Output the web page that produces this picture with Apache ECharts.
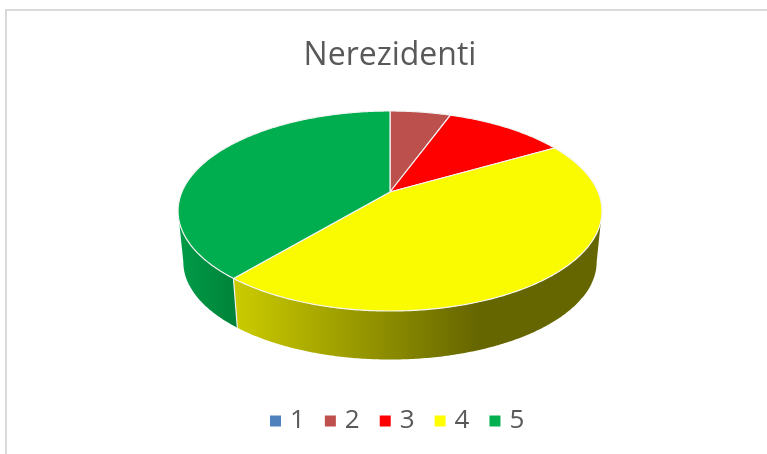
<!DOCTYPE html>
<html>
<head>
<meta charset="utf-8">
<style>html,body{margin:0;padding:0;background:#fff}#c{width:767px;height:454px}</style>
<script src="https://cdn.jsdelivr.net/npm/echarts@6/dist/echarts.min.js"></script>
</head>
<body>
<div id="c"></div>
<script>
const titleText = 'Nerezidenti';
const categories = ['1', '2', '3', '4', '5'];
const values = [0, 1, 2, 8, 7];

const colors = ['#4F81BD', '#C0504D', '#FF0000', '#FFFF00', '#00B050'];
const topColors = ['#4F81BD', '#BC504D', '#FF0000', '#FAFA00', '#00AE4F'];

// Perspective view of the disc
const view = { apexX: 390, apexY: 192, radius: 208.1, tilt: 96.4, persp: 0.19,
               floorDY: 51.5, floorScale: 0.975 };

const total = values.reduce((a, b) => a + b, 0);
function cumulative(i) { return values.slice(0, i).reduce((a, b) => a + b, 0); }
function toAngle(v) { return echarts.number.linearMap(v, [0, total], [0, Math.PI * 2]); }

// Angles where the rim turns away from the viewer: walls exist only between them
const frontStart = Math.acos(-view.persp);
const frontEnd = Math.PI * 2 - frontStart;

function project(theta, floor) {
  const u = Math.sin(theta), v = -Math.cos(theta), w = 1 - view.persp * v;
  const s = floor ? view.floorScale : 1;
  return [
    view.apexX + s * view.radius * u / w,
    view.apexY + (floor ? view.floorDY : 0) + s * view.tilt * v / w
  ];
}
function arc(a0, a1, floor) {
  const n = Math.max(2, Math.ceil(Math.abs(a1 - a0) / 0.01));
  const pts = [];
  for (let k = 0; k <= n; k++) pts.push(project(a0 + (a1 - a0) * k / n, floor));
  return pts;
}
const wallFill = {
  3: new echarts.graphic.LinearGradient(233, 0, 600, 0, [
    { offset: 0, color: '#CCCC00' }, { offset: 0.665, color: '#666600' }, { offset: 1, color: '#666600' }
  ], true),
  4: new echarts.graphic.LinearGradient(178, 0, 237, 0, [
    { offset: 0, color: '#009C48' }, { offset: 1, color: '#008239' }
  ], true)
};

const chart = echarts.init(document.getElementById('c'), null, { renderer: 'canvas' });
chart.setOption({
  animation: false,
  backgroundColor: '#ffffff',
  title: {
    text: titleText, left: 385, top: 35, textAlign: 'center',
    textStyle: { fontFamily: 'Open Sans', fontSize: 32, fontWeight: 'normal', color: '#595959' }
  },
  legend: {
    data: categories, left: 265, top: 403, orient: 'horizontal',
    icon: 'rect', itemWidth: 11, itemHeight: 11, itemGap: 20,
    textStyle: { fontFamily: 'Open Sans', fontSize: 26, color: '#595959', padding: [2, 0, 0, 4] }
  },
  graphic: [
    { type: 'line', shape: { x1: 6, y1: 10, x2: 767, y2: 10 }, style: { stroke: '#D9D9D9', lineWidth: 2 } },
    { type: 'line', shape: { x1: 6, y1: 9, x2: 6, y2: 454 }, style: { stroke: '#D9D9D9', lineWidth: 2 } }
  ],
  series: categories.map((name, i) => ({
    type: 'custom',
    name: name,
    coordinateSystem: 'none',
    silent: true,
    itemStyle: { color: colors[i] },
    data: [[values[i]]],
    renderItem: function (params, api) {
      const v = api.value(0);
      if (!v) return { type: 'group', children: [] };
      const a0 = toAngle(cumulative(i)), a1 = toAngle(cumulative(i) + v);
      const rim = arc(a0, a1, false);
      const children = [];
      const w0 = Math.max(a0, frontStart), w1 = Math.min(a1, frontEnd);
      if (w1 > w0) {
        children.push({
          type: 'polygon', z2: 1,
          shape: { points: arc(w0, w1, false).concat(arc(w1, w0, true)) },
          style: { fill: wallFill[i] }
        });
        if (a0 >= frontStart) {
          const p = project(a0, false), q = project(a0, true);
          children.push({
            type: 'line', z2: 5,
            shape: { x1: p[0], y1: p[1], x2: q[0], y2: q[1] },
            style: { stroke: '#F2F2F2', lineWidth: 1.2 }
          });
        }
      }
      children.push({
        type: 'polygon', z2: 10,
        shape: { points: [[view.apexX, view.apexY]].concat(rim) },
        style: { fill: topColors[i], stroke: '#F4F4F4', lineWidth: 1.2, lineJoin: 'round' }
      });
      return { type: 'group', children: children };
    }
  }))
});
</script>
</body>
</html>
